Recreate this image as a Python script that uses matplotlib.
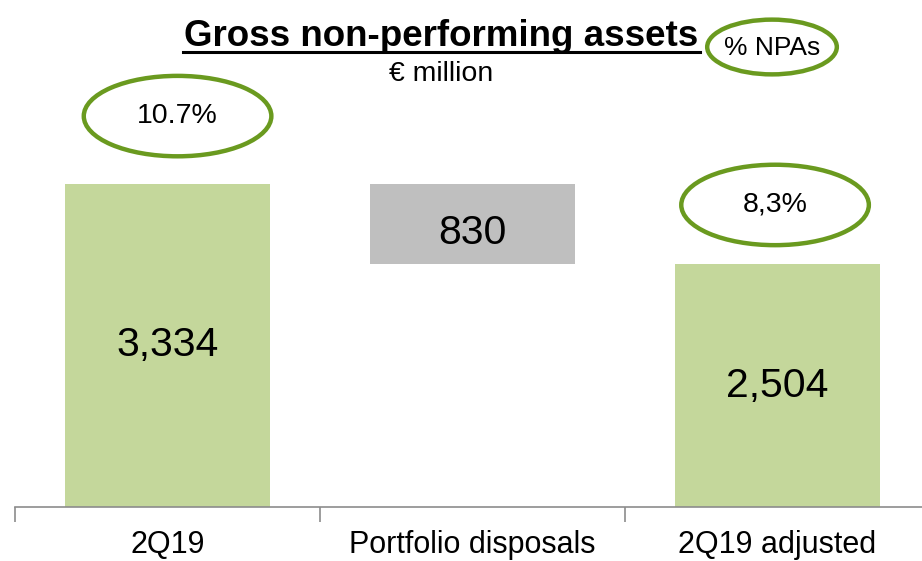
import matplotlib
matplotlib.use("Agg")
import matplotlib.pyplot as plt
from matplotlib.patches import Ellipse

plt.rcParams['font.family'] = ['Liberation Sans', 'DejaVu Sans']

categories = ["2Q19", "Portfolio disposals", "2Q19 adjusted"]
start_value = 3334
disposal = 830
adjusted_value = 2504
value_labels = ["3,334", "830", "2,504"]
npa_labels = ["10.7%", "8,3%"]

green = "#c4d79b"
grey = "#bfbfbf"
ring = "#6a9a1f"

fig = plt.figure(figsize=(9.22, 5.61), dpi=100)
ax = fig.add_axes([15/922, 54/561, 915/922, 507/561])
ax.set_xlim(-0.5, 2.5)
ax.set_ylim(0, 5232)

x = list(range(len(categories)))
w = 0.672
ax.bar(x[0], start_value, width=w, color=green)
ax.bar(x[1], disposal, bottom=adjusted_value, width=w, color=grey)
ax.bar(x[2], adjusted_value, width=w, color=green)

ax.text(x[0], start_value / 2, value_labels[0], ha='center', va='center', fontsize=29.5)
ax.text(x[1], adjusted_value + disposal / 2 - 90, value_labels[1], ha='center', va='center', fontsize=29.5)
ax.text(x[2], adjusted_value / 2, value_labels[2], ha='center', va='center', fontsize=29.5)

# NPA ratio ellipses
ell = [(x[0] + 0.033, start_value + 700, npa_labels[0]),
       (x[2] - 0.008, adjusted_value + 613, npa_labels[1])]
for cx, cy, lab in ell:
    ax.add_patch(Ellipse((cx, cy), 0.615, 830, fill=False, edgecolor=ring, lw=3.2, clip_on=False))
    ax.text(cx, cy + 5, lab, ha='center', va='center', fontsize=20.5)

ax.add_patch(Ellipse((1.982, 4747), 0.425, 565, fill=False, edgecolor=ring, lw=3.2, clip_on=False))
ax.text(1.982, 4737, "% NPAs", ha='center', va='center', fontsize=19)

fig.text(441/922, 1 - 37/561, "Gross non-performing assets", ha='center', va='center',
         fontsize=26.5, fontweight='bold')
fig.add_artist(plt.Line2D([183/922, 700/922], [1 - 52/561, 1 - 52/561], color='black', lw=2.2))
fig.text(441/922, 1 - 74/561, "€ million", ha='center', va='center', fontsize=20.5)

for s in ['top', 'right', 'left']:
    ax.spines[s].set_visible(False)
ax.spines['bottom'].set_color('#8c8c8c')
ax.spines['bottom'].set_linewidth(1.2)
ax.set_yticks([])
ax.set_xticks([-0.5, 0.5, 1.5, 2.5], minor=False)
ax.set_xticklabels([])
ax.tick_params(axis='x', which='major', length=11, color='#8c8c8c', width=1.2)
ax.set_xticks(x, minor=True)
ax.set_xticklabels(categories, minor=True, fontsize=22)
ax.tick_params(axis='x', which='minor', length=0, pad=16.5)

fig.savefig("out.png", dpi=100)
